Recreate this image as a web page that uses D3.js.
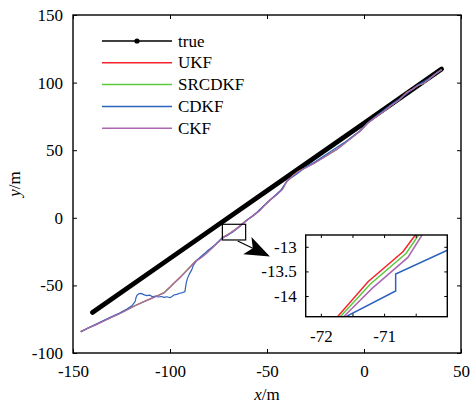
<!DOCTYPE html>
<html>
<head>
<meta charset="utf-8">
<script src="https://cdn.jsdelivr.net/npm/d3@7"></script>
<style>
  body { margin: 0; background: #fff; }
</style>
</head>
<body>
<div id="chart"></div>
<script>
// main trajectories (x, y in m)
const trueX = [-140, -100, -50, 0, 40]
const trueY = [-70, -30, 20, 70, 110]

const ukfX = [-146, -142, -138, -134, -130, -126, -122, -118, -114, -110, -106, -103, -100, -98, -95, -92, -90, -87, -84, -81, -78, -75, -72, -69, -66, -63, -60, -57, -54, -51, -48, -45, -42, -40, -37, -34, -30, -26, -22, -18, -14, -10, -6, -2, 2, 6, 10, 14, 18, 22, 25, 28, 31, 34, 37, 40]
const ukfY = [-84.2, -81.4, -78.8, -76.1, -73.4, -70.8, -67.8, -64.9, -62.3, -59.8, -57.3, -55.2, -51.2, -48.3, -44.2, -39.8, -36.8, -32.3, -29.3, -25.8, -21.8, -17.8, -13.8, -11.3, -8.3, -4.8, -1.3, 1.7, 5.2, 9.7, 13.7, 17.2, 21.3, 26.7, 30.7, 34.2, 37.2, 40.2, 43.7, 47.2, 50.7, 55.2, 59.7, 64.2, 70.2, 74.7, 78.7, 83.2, 87.2, 92.7, 95.2, 98.2, 99.7, 103.2, 106.7, 109.6]

const srcdkfX = [-146, -142, -138, -134, -130, -126, -122, -118, -114, -110, -106, -103, -100, -98, -95, -92, -90, -87, -84, -81, -78, -75, -72, -69, -66, -63, -60, -57, -54, -51, -48, -45, -42, -40, -37, -34, -30, -26, -22, -18, -14, -10, -6, -2, 2, 6, 10, 14, 18, 22, 25, 28, 31, 34, 37, 40]
const srcdkfY = [-84.1, -81.5, -78.9, -76.2, -73.5, -70.9, -67.9, -65.0, -62.4, -59.9, -57.4, -55.3, -51.4, -48.4, -44.4, -39.9, -36.9, -32.4, -29.4, -25.9, -21.9, -17.9, -13.9, -11.4, -8.4, -4.9, -1.4, 1.6, 5.1, 9.6, 13.6, 17.1, 21.1, 26.6, 30.6, 34.1, 37.1, 40.1, 43.6, 47.1, 50.6, 55.1, 59.6, 64.1, 70.1, 74.6, 78.6, 83.1, 87.1, 92.6, 95.1, 98.1, 99.6, 103.1, 106.6, 109.5]

const cdkfX = [-146, -142, -138, -134, -130, -126, -122, -119.5, -118, -117.5, -117, -116, -115, -113.5, -112, -110.5, -109, -107.5, -106, -104.5, -103, -101.5, -100, -99, -98, -96.5, -95, -93.5, -92.3, -92, -91.6, -91, -90, -88.8, -88, -86, -84, -81, -79, -77, -75, -73, -71, -69.5, -68, -66, -64, -62, -60, -57, -55, -52, -50, -46, -43, -41, -39, -35, -30, -25, -18, -10, -2, 2, 8, 15, 20, 25, 28, 33, 36, 40]
const cdkfY = [-84.5, -81.3, -78.6, -75.8, -73.1, -70.4, -67.2, -64.8, -62, -59, -57.3, -56.2, -55.9, -56.8, -57.6, -57.2, -58.4, -57.9, -58.6, -58.2, -58.9, -58.4, -59.1, -58.2, -57.1, -56.6, -55.8, -55.3, -54.6, -51.5, -48, -44.8, -41.5, -38.5, -35.2, -31.2, -28.6, -24.8, -22.5, -20.2, -17.4, -14.6, -13.6, -12.1, -10.8, -8.6, -6.5, -3.6, -1.2, 1.9, 4.3, 8.4, 11.2, 16.3, 20.2, 24.3, 28.2, 32.1, 37.6, 41.6, 48.3, 55.8, 64.4, 70.3, 77.2, 84.7, 89.6, 95.2, 98.4, 102.6, 105.6, 109.7]

const ckfX = [-146, -142, -138, -134, -130, -126, -122, -118, -114, -110, -106, -103, -100, -98, -95, -92, -90, -87, -84, -81, -78, -75, -72, -69, -66, -63, -60, -57, -54, -51, -48, -45, -42, -40, -37, -34, -30, -26, -22, -18, -14, -10, -6, -2, 2, 6, 10, 14, 18, 22, 25, 28, 31, 34, 37, 40]
const ckfY = [-84, -81.5, -79, -76.3, -73.5, -71, -68, -65, -62.5, -60, -57.5, -55.5, -51.5, -48.5, -44.5, -40, -37, -32.5, -29.5, -26, -22, -18, -14, -11.5, -8.5, -5, -1.5, 1.5, 5, 9.5, 13.5, 17, 21, 26.5, 30.5, 34, 37, 40, 43.5, 47, 50.5, 55, 59.5, 64, 70, 74.5, 78.5, 83, 87, 92.5, 95, 98, 99.5, 103, 106.5, 109.5]

// inset (zoomed) segments
const inUkfX = [-71.79, -71.743, -71.254, -70.702, -70.517, -70.47]
const inUkfY = [-14.5, -14.43, -13.709, -13.10, -12.78, -12.7]
const inSrcdkfX = [-71.75, -71.70, -71.216, -70.65, -70.465, -70.42]
const inSrcdkfY = [-14.5, -14.43, -13.755, -13.13, -12.78, -12.7]
const inCdkfX = [-71.726, -71.62, -70.817, -70.817, -70.017, -69.9]
const inCdkfY = [-14.5, -14.43, -13.897, -13.553, -13.08, -13.02]
const inCkfX = [-71.70, -71.648, -71.185, -70.623, -70.41, -70.36]
const inCkfY = [-14.5, -14.43, -13.84, -13.215, -12.78, -12.7]

const xTicks = [-150, -100, -50, 0, 50]
const yTicks = [-100, -50, 0, 50, 100, 150]
const inXTicks = [-72, -71.5, -71, -70.5]
const inXLabels = [-72, -71]
const inYTicks = [-14, -13.5, -13]

const seriesNames = ['true', 'UKF', 'SRCDKF', 'CDKF', 'CKF']
const colors = ['#000000', '#f5232b', '#5fc93c', '#2d63bd', '#ad66b2']

// zoom box and arrow (main axis units)
const boxX = [-73, -61]
const boxY = [-16.4, -4.8]
const arrowFrom = [-65.1, -17.2]
const arrowTo = [-48.5, -28.6]

const FONT = 'Liberation Serif'
const FS = 17
const width = 471
const height = 405
const plot = { left: 73, right: 461, top: 15, bottom: 353 }
const inset = { left: 305.7, right: 447.3, top: 235, bottom: 316.7 }

const svg = d3.select('#chart').append('svg')
  .attr('width', width)
  .attr('height', height)
  .attr('font-family', FONT)

const x = d3.scaleLinear().domain([-150, 50]).range([plot.left, plot.right])
const y = d3.scaleLinear().domain([-100, 150]).range([plot.bottom, plot.top])

const zip = (xs, ys) => xs.map((v, i) => [v, ys[i]])

svg.append('clipPath').attr('id', 'clipMain')
  .append('rect')
  .attr('x', plot.left).attr('y', plot.top)
  .attr('width', plot.right - plot.left).attr('height', plot.bottom - plot.top)

const main = svg.append('g').attr('clip-path', 'url(#clipMain)')
const line = d3.line().x(d => x(d[0])).y(d => y(d[1]))

main.append('path')
  .datum(zip(trueX, trueY))
  .attr('d', line)
  .attr('fill', 'none')
  .attr('stroke', colors[0])
  .attr('stroke-width', 4.8)
  .attr('stroke-linecap', 'round')

const mainSeries = [
  zip(ukfX, ukfY), zip(srcdkfX, srcdkfY), zip(cdkfX, cdkfY), zip(ckfX, ckfY)
]
mainSeries.forEach((s, i) => {
  main.append('path')
    .datum(s)
    .attr('d', line)
    .attr('fill', 'none')
    .attr('stroke', colors[i + 1])
    .attr('stroke-width', 1.2)
    .attr('stroke-linejoin', 'round')
})

// axes, MATLAB style ticks pointing in
const fmt = d => String(d)
const styleAxis = g => {
  g.attr('font-family', FONT).attr('font-size', FS)
  g.select('.domain').remove()
  g.selectAll('line').attr('stroke', '#000').attr('stroke-width', 1)
  g.selectAll('text').attr('font-family', FONT).attr('font-size', FS).attr('fill', '#000')
}

const gx = svg.append('g').attr('transform', `translate(0,${plot.bottom})`)
  .call(d3.axisBottom(x).tickValues(xTicks).tickSize(-4).tickPadding(12).tickFormat(fmt))
const gxt = svg.append('g').attr('transform', `translate(0,${plot.top})`)
  .call(d3.axisTop(x).tickValues(xTicks).tickSize(-4).tickFormat(''))
const gy = svg.append('g').attr('transform', `translate(${plot.left},0)`)
  .call(d3.axisLeft(y).tickValues(yTicks).tickSize(-4).tickPadding(10).tickFormat(fmt))
const gyr = svg.append('g').attr('transform', `translate(${plot.right},0)`)
  .call(d3.axisRight(y).tickValues(yTicks).tickSize(-4).tickFormat(''))
;[gx, gxt, gy, gyr].forEach(styleAxis)

svg.append('rect')
  .attr('x', plot.left).attr('y', plot.top)
  .attr('width', plot.right - plot.left).attr('height', plot.bottom - plot.top)
  .attr('fill', 'none').attr('stroke', '#000').attr('stroke-width', 1.4)

// axis titles
const xt = svg.append('text')
  .attr('x', (plot.left + plot.right) / 2).attr('y', 400)
  .attr('text-anchor', 'middle').attr('font-family', FONT).attr('font-size', FS)
xt.append('tspan').attr('font-style', 'italic').text('x')
xt.append('tspan').text('/m')

const yt = svg.append('text')
  .attr('transform', `translate(20,${(plot.top + plot.bottom) / 2}) rotate(-90)`)
  .attr('text-anchor', 'middle').attr('font-family', FONT).attr('font-size', FS)
yt.append('tspan').attr('font-style', 'italic').text('y')
yt.append('tspan').text('/m')

// legend
const legend = svg.append('g')
seriesNames.forEach((name, i) => {
  const ly = 41 + i * 21.8
  legend.append('line')
    .attr('x1', 102).attr('x2', 172).attr('y1', ly).attr('y2', ly)
    .attr('stroke', colors[i]).attr('stroke-width', 1.5)
  if (i === 0) {
    legend.append('circle').attr('cx', 137).attr('cy', ly).attr('r', 2.6).attr('fill', '#000')
  }
  legend.append('text')
    .attr('x', 178).attr('y', ly).attr('dy', '0.33em')
    .attr('font-family', FONT).attr('font-size', FS)
    .text(name)
})

// zoom rectangle
svg.append('rect')
  .attr('x', x(boxX[0])).attr('y', y(boxY[1]))
  .attr('width', x(boxX[1]) - x(boxX[0])).attr('height', y(boxY[0]) - y(boxY[1]))
  .attr('fill', 'none').attr('stroke', '#000').attr('stroke-width', 1.2)

// arrow
const ax0 = x(arrowFrom[0]), ay0 = y(arrowFrom[1])
const ax1 = x(arrowTo[0]), ay1 = y(arrowTo[1])
const alen = Math.hypot(ax1 - ax0, ay1 - ay0)
const ux = (ax1 - ax0) / alen, uy = (ay1 - ay0) / alen
const headL = 25, headW = 19, notch = 6
const bx = ax1 - headL * ux, by = ay1 - headL * uy
svg.append('line')
  .attr('x1', ax0).attr('y1', ay0)
  .attr('x2', bx + notch * ux).attr('y2', by + notch * uy)
  .attr('stroke', '#000').attr('stroke-width', 1.2)
svg.append('path')
  .attr('d', `M${ax1},${ay1} L${bx - uy * headW / 2},${by + ux * headW / 2} L${bx + notch * ux},${by + notch * uy} L${bx + uy * headW / 2},${by - ux * headW / 2} Z`)
  .attr('fill', '#000')

// inset
const xi = d3.scaleLinear().domain([-72.24, -70.0]).range([inset.left, inset.right])
const yi = d3.scaleLinear().domain([-14.42, -12.76]).range([inset.bottom, inset.top])

svg.append('rect')
  .attr('x', inset.left).attr('y', inset.top)
  .attr('width', inset.right - inset.left).attr('height', inset.bottom - inset.top)
  .attr('fill', '#fff')

svg.append('clipPath').attr('id', 'clipInset')
  .append('rect')
  .attr('x', inset.left).attr('y', inset.top)
  .attr('width', inset.right - inset.left).attr('height', inset.bottom - inset.top)

const ig = svg.append('g').attr('clip-path', 'url(#clipInset)')
const iline = d3.line().x(d => xi(d[0])).y(d => yi(d[1]))
const insetSeries = [
  zip(inUkfX, inUkfY), zip(inSrcdkfX, inSrcdkfY), zip(inCdkfX, inCdkfY), zip(inCkfX, inCkfY)
]
insetSeries.forEach((s, i) => {
  ig.append('path')
    .datum(s)
    .attr('d', iline)
    .attr('fill', 'none')
    .attr('stroke', colors[i + 1])
    .attr('stroke-width', 1.5)
})

const ixFmt = d => inXLabels.includes(d) ? fmt(d) : ''
const igx = svg.append('g').attr('transform', `translate(0,${inset.bottom})`)
  .call(d3.axisBottom(xi).tickValues(inXTicks).tickSize(-3).tickPadding(13).tickFormat(ixFmt))
const igxt = svg.append('g').attr('transform', `translate(0,${inset.top})`)
  .call(d3.axisTop(xi).tickValues(inXTicks).tickSize(-3).tickFormat(''))
const igy = svg.append('g').attr('transform', `translate(${inset.left},0)`)
  .call(d3.axisLeft(yi).tickValues(inYTicks).tickSize(-3).tickPadding(9).tickFormat(fmt))
const igyr = svg.append('g').attr('transform', `translate(${inset.right},0)`)
  .call(d3.axisRight(yi).tickValues(inYTicks).tickSize(-3).tickFormat(''))
;[igx, igxt, igy, igyr].forEach(styleAxis)

svg.append('rect')
  .attr('x', inset.left).attr('y', inset.top)
  .attr('width', inset.right - inset.left).attr('height', inset.bottom - inset.top)
  .attr('fill', 'none').attr('stroke', '#000').attr('stroke-width', 1.4)
</script>
</body>
</html>
